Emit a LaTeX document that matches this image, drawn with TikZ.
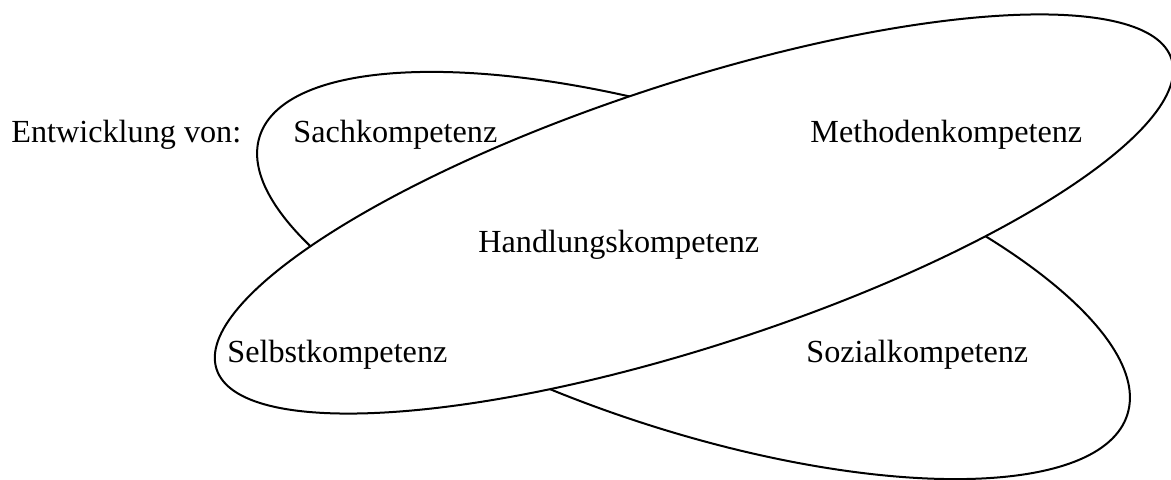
\documentclass[tikz,border=0pt]{standalone}
\usepackage{fontspec}
\setmainfont{Liberation Serif}
\tikzset{
    EL/.style ={draw, line width=1pt},
    EW/.style ={draw, line width=1pt, fill=white},
    TX/.style ={anchor=base west, inner sep=0pt, font=\fontsize{16.1}{19}\selectfont}}

\begin{document}
\begin{tikzpicture}[x=0.5pt,y=-0.5pt]
        \useasboundingbox (0,0) rectangle (1171,480);
        \draw[EL, rotate around={-17.8:(693.5,275.5)}] (693.5,275.5) ellipse [x radius=455.6, y radius=156];
        \draw[EW, rotate around={18:(694,214)}] (694,214) ellipse [x radius=502, y radius=132];
        \node[TX] (0) at(11,143){Entwicklung von:};
        \node[TX] (1) at(293,143){Sachkompetenz};
        \node[TX] (2) at(810,143){Methodenkompetenz};
        \node[TX] (3) at(478,253){Handlungskompetenz};
        \node[TX] (4) at(227,362){Selbstkompetenz};
        \node[TX] (5) at(806,362){Sozialkompetenz};
    \end{tikzpicture}
\end{document}
